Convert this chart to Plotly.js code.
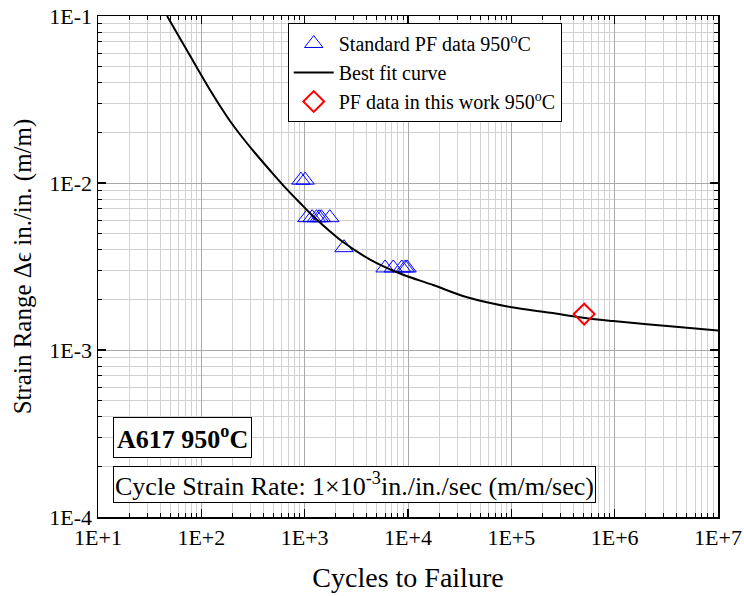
<!DOCTYPE html>
<html>
<head>
<meta charset="utf-8">
<script src="https://cdn.plot.ly/plotly-3.0.1.min.js"></script>
<style>html,body{margin:0;padding:0;background:#fff;}#chart{width:744px;height:596px;}</style>
</head>
<body>
<div id="chart"></div>
<script>
// Standard PF data 950°C (cycles to failure, strain range)
var stdCycles = [920, 1010, 1050, 1180, 1300, 1380, 1450, 1750, 2400, 6000, 7200, 8700, 9400, 9800];
var stdStrain = [0.0104, 0.0104, 0.0062, 0.0062, 0.0062, 0.0062, 0.0062, 0.0062, 0.0041, 0.0031, 0.0031, 0.0031, 0.0031, 0.0031];

// Best fit curve
var fitCycles = [46.6, 69.5, 97.1, 121.4, 151.7, 189.6, 237, 331, 463, 646, 903, 1261, 1762, 2353, 4297, 8384, 17500, 37300, 97300, 238000, 496000, 966000, 3220000, 10000000];
var fitStrain = [0.1, 0.0652, 0.0456, 0.0360, 0.0289, 0.02351, 0.01952, 0.01512, 0.01188, 0.00942, 0.00759, 0.00617, 0.00513, 0.00443, 0.00348, 0.00287, 0.00245, 0.00207, 0.00181, 0.00167, 0.00156, 0.00149, 0.00139, 0.00131];

// PF data in this work 950°C
var workCycles = [507000];
var workStrain = [0.00164];

var xTickVals = [1e1, 1e2, 1e3, 1e4, 1e5, 1e6, 1e7];
var xTickText = ['1E+1', '1E+2', '1E+3', '1E+4', '1E+5', '1E+6', '1E+7'];
var yTickVals = [1e-4, 1e-3, 1e-2, 1e-1];
var yTickText = ['1E-4', '1E-3', '1E-2', '1E-1'];

var serif = 'Liberation Serif, Times New Roman, serif';

var traces = [
  {
    x: stdCycles, y: stdStrain, type: 'scatter', mode: 'markers',
    name: 'Standard PF data 950<sup>o</sup>C',
    marker: {symbol: 'triangle-up-open', size: 16, color: '#0000ff', line: {width: 1, color: '#0000ff'}}
  },
  {
    x: fitCycles, y: fitStrain, type: 'scatter', mode: 'lines',
    name: 'Best fit curve',
    line: {color: '#000000', width: 2, shape: 'spline', smoothing: 1}
  },
  {
    x: workCycles, y: workStrain, type: 'scatter', mode: 'markers',
    name: 'PF data in this work 950<sup>o</sup>C',
    marker: {symbol: 'diamond-open', size: 16, color: '#ff0000', line: {width: 2, color: '#ff0000'}}
  }
];

var axisCommon = {
  type: 'log',
  showline: true, linecolor: '#000', linewidth: 1.5, mirror: 'ticks',
  ticks: 'inside', ticklen: 8, tickwidth: 1.5, tickcolor: '#000',
  showgrid: true, gridcolor: '#aaaaaa', gridwidth: 1,
  zeroline: false,
  tickfont: {family: serif, size: 22, color: '#000'},
  minor: {ticks: 'inside', ticklen: 4, tickwidth: 1, tickcolor: '#000', dtick: 'D1', showgrid: true, gridcolor: '#d2d2d2', gridwidth: 1}
};

var layout = {
  width: 744, height: 596,
  margin: {l: 98, r: 26, t: 16, b: 79},
  paper_bgcolor: '#fff', plot_bgcolor: '#fff',
  font: {family: serif, color: '#000'},
  showlegend: true,
  legend: {
    x: 0.306, y: 0.986, xanchor: 'left', yanchor: 'top',
    bgcolor: '#fff', bordercolor: '#000', borderwidth: 1,
    font: {family: serif, size: 20, color: '#000'},
    tracegroupgap: 0, itemwidth: 40
  },
  xaxis: Object.assign({}, axisCommon, {
    range: [1, 7], tickvals: xTickVals, ticktext: xTickText,
    title: {text: 'Cycles to Failure', font: {family: serif, size: 28, color: '#000'}, standoff: 18}
  }),
  yaxis: Object.assign({}, axisCommon, {
    range: [-4, -1], tickvals: yTickVals, ticktext: yTickText,
    title: {text: 'Strain Range \u0394\u03f5 in./in. (m/m)', font: {family: serif, size: 25, color: '#000'}, standoff: 10}
  }),
  annotations: [
    {
      xref: 'paper', yref: 'paper', x: 0.024, y: 0.158, xanchor: 'left', yanchor: 'middle',
      text: '<b>A617 950<sup>o</sup>C</b>', showarrow: false,
      font: {family: serif, size: 26, color: '#000'},
      bgcolor: '#fff', bordercolor: '#000', borderwidth: 1, borderpad: 3
    },
    {
      xref: 'paper', yref: 'paper', x: 0.024, y: 0.064, xanchor: 'left', yanchor: 'middle',
      text: 'Cycle Strain Rate: 1\u00d710<sup>-3</sup>in./in./sec (m/m/sec)', showarrow: false,
      font: {family: serif, size: 26, color: '#000'},
      bgcolor: '#fff', bordercolor: '#000', borderwidth: 1, borderpad: 1
    }
  ]
};

Plotly.newPlot('chart', traces, layout, {displayModeBar: false, staticPlot: true});
</script>
</body>
</html>
